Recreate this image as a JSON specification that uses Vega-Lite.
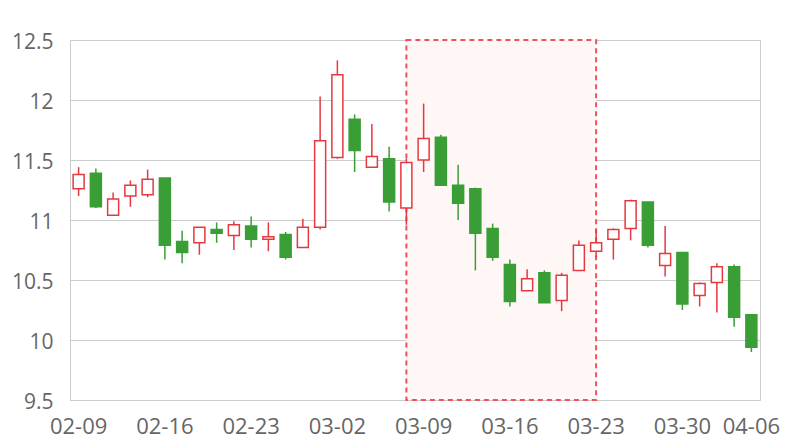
{
  "$schema": "https://vega.github.io/schema/vega-lite/v6.json",
  "width": 690,
  "height": 360,
  "autosize": {"type": "none"},
  "padding": {"left": 70, "top": 40, "right": 40, "bottom": 40},
  "background": "#ffffff",
  "config": {
    "view": {"stroke": "#cccccc", "strokeWidth": 1},
    "font": "Open Sans"
  },
  "datasets": {
    "candles": [
      {"date": "02-09", "open": 11.26, "close": 11.38, "high": 11.44, "low": 11.20},
      {"date": "02-10", "open": 11.39, "close": 11.11, "high": 11.43, "low": 11.10},
      {"date": "02-11", "open": 11.04, "close": 11.175, "high": 11.23, "low": 11.04},
      {"date": "02-12", "open": 11.20, "close": 11.29, "high": 11.33, "low": 11.11},
      {"date": "02-13", "open": 11.21, "close": 11.34, "high": 11.42, "low": 11.19},
      {"date": "02-16", "open": 11.35, "close": 10.79, "high": 11.35, "low": 10.67},
      {"date": "02-17", "open": 10.82, "close": 10.73, "high": 10.91, "low": 10.64},
      {"date": "02-18", "open": 10.81, "close": 10.94, "high": 10.94, "low": 10.71},
      {"date": "02-19", "open": 10.92, "close": 10.89, "high": 10.98, "low": 10.81},
      {"date": "02-20", "open": 10.87, "close": 10.96, "high": 10.99, "low": 10.75},
      {"date": "02-23", "open": 10.95, "close": 10.84, "high": 11.03, "low": 10.77},
      {"date": "02-24", "open": 10.84, "close": 10.86, "high": 10.98, "low": 10.74},
      {"date": "02-25", "open": 10.88, "close": 10.69, "high": 10.90, "low": 10.67},
      {"date": "02-26", "open": 10.77, "close": 10.94, "high": 11.01, "low": 10.77},
      {"date": "02-27", "open": 10.94, "close": 11.66, "high": 12.03, "low": 10.92},
      {"date": "03-02", "open": 11.52, "close": 12.21, "high": 12.33, "low": 11.51},
      {"date": "03-03", "open": 11.84, "close": 11.58, "high": 11.88, "low": 11.40},
      {"date": "03-04", "open": 11.44, "close": 11.53, "high": 11.80, "low": 11.44},
      {"date": "03-05", "open": 11.51, "close": 11.15, "high": 11.61, "low": 11.07},
      {"date": "03-06", "open": 11.10, "close": 11.48, "high": 11.51, "low": 10.96},
      {"date": "03-09", "open": 11.50, "close": 11.68, "high": 11.97, "low": 11.40},
      {"date": "03-10", "open": 11.69, "close": 11.29, "high": 11.71, "low": 11.29},
      {"date": "03-11", "open": 11.29, "close": 11.14, "high": 11.46, "low": 11.00},
      {"date": "03-12", "open": 11.26, "close": 10.89, "high": 11.27, "low": 10.58},
      {"date": "03-13", "open": 10.93, "close": 10.69, "high": 10.97, "low": 10.66},
      {"date": "03-16", "open": 10.63, "close": 10.32, "high": 10.67, "low": 10.28},
      {"date": "03-17", "open": 10.41, "close": 10.51, "high": 10.59, "low": 10.41},
      {"date": "03-18", "open": 10.56, "close": 10.31, "high": 10.58, "low": 10.31},
      {"date": "03-19", "open": 10.33, "close": 10.54, "high": 10.56, "low": 10.24},
      {"date": "03-20", "open": 10.58, "close": 10.79, "high": 10.83, "low": 10.58},
      {"date": "03-23", "open": 10.74, "close": 10.81, "high": 10.92, "low": 10.69},
      {"date": "03-24", "open": 10.84, "close": 10.92, "high": 10.93, "low": 10.67},
      {"date": "03-25", "open": 10.93, "close": 11.16, "high": 11.17, "low": 10.83},
      {"date": "03-26", "open": 11.15, "close": 10.79, "high": 11.15, "low": 10.77},
      {"date": "03-27", "open": 10.62, "close": 10.72, "high": 10.95, "low": 10.53},
      {"date": "03-30", "open": 10.73, "close": 10.30, "high": 10.73, "low": 10.25},
      {"date": "03-31", "open": 10.37, "close": 10.47, "high": 10.48, "low": 10.28},
      {"date": "04-01", "open": 10.48, "close": 10.61, "high": 10.64, "low": 10.23},
      {"date": "04-02", "open": 10.61, "close": 10.19, "high": 10.63, "low": 10.11},
      {"date": "04-06", "open": 10.21, "close": 9.94, "high": 10.21, "low": 9.90}
    ],
    "area": [{"start": "03-06", "end": "03-23", "top": 12.5, "bottom": 9.5}]
  },
  "encoding": {
    "x": {
      "field": "date",
      "type": "ordinal",
      "scale": {
        "type": "band",
        "paddingInner": 0,
        "paddingOuter": 0,
        "domain": ["02-09","02-10","02-11","02-12","02-13","02-16","02-17","02-18","02-19","02-20","02-23","02-24","02-25","02-26","02-27","03-02","03-03","03-04","03-05","03-06","03-09","03-10","03-11","03-12","03-13","03-16","03-17","03-18","03-19","03-20","03-23","03-24","03-25","03-26","03-27","03-30","03-31","04-01","04-02","04-06"]
      },
      "axis": {
        "title": null,
        "values": ["02-09","02-16","02-23","03-02","03-09","03-16","03-23","03-30","04-06"],
        "labelAngle": 0,
        "labelFontSize": 22,
        "labelColor": "#666666",
        "labelPadding": 16,
        "labelOverlap": false,
        "labelBound": false,
        "ticks": false,
        "domain": false,
        "grid": false
      }
    }
  },
  "layer": [
    {
      "data": {"name": "area"},
      "mark": {"type": "rect", "fill": "#fff6f6", "stroke": "#f0505a", "strokeWidth": 2, "strokeDash": [5, 4]},
      "encoding": {
        "x": {"field": "start", "type": "ordinal", "bandPosition": 0.5},
        "x2": {"field": "end", "bandPosition": 0.5},
        "y": {"field": "top", "type": "quantitative"},
        "y2": {"field": "bottom"}
      }
    },
    {
      "data": {"name": "candles"},
      "mark": {"type": "rule", "strokeWidth": 1.5},
      "encoding": {
        "y": {
          "field": "low",
          "type": "quantitative",
          "scale": {"domain": [9.5, 12.5], "nice": false, "zero": false},
          "axis": {
            "title": null,
            "values": [9.5, 10, 10.5, 11, 11.5, 12, 12.5],
            "labelExpr": "'' + datum.value",
            "labelFontSize": 21,
            "labelColor": "#666666",
            "labelPadding": 17,
            "labelOffset": 2,
            "ticks": false,
            "domain": false,
            "gridColor": "#cccccc",
            "gridWidth": 1
          }
        },
        "y2": {"field": "high"},
        "color": {
          "condition": {"test": "datum.close > datum.open", "value": "#e5383f"},
          "value": "#3a9e36"
        }
      }
    },
    {
      "data": {"name": "candles"},
      "mark": {"type": "bar", "size": 11, "strokeWidth": 1.5},
      "encoding": {
        "y": {"field": "open", "type": "quantitative"},
        "y2": {"field": "close"},
        "fill": {
          "condition": {"test": "datum.close > datum.open", "value": "#ffffff"},
          "value": "#3a9e36"
        },
        "stroke": {
          "condition": {"test": "datum.close > datum.open", "value": "#e5383f"},
          "value": "#3a9e36"
        }
      }
    }
  ]
}
